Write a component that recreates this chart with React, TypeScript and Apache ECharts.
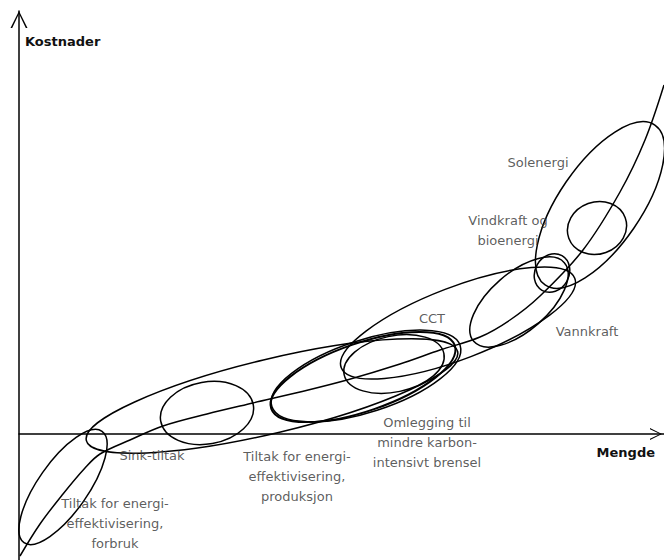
import React, { useEffect, useRef } from "react";
import * as echarts from "echarts";

// Cost curve (Mengde, Kostnader); origin = axes crossing
const curveX = [1, 21, 44, 66, 81, 111, 144, 188, 234, 281, 328, 381, 421, 461, 491, 521, 564, 601, 626, 645];
const curveY = [-122, -90, -60, -34, -20, -6, 8, 20, 31, 42, 54, 70, 84, 97, 114, 138, 184, 242, 294, 349];

// Ellipses: centre, semi-axes and tilt (degrees)
const ellipseNames = ["Forbruk", "Sink", "Produksjon", "Omlegging", "Omlegging2", "CCT liten", "CCT", "Vannkraft", "Bioenergi", "Vindkraft", "Solenergi"];
const ellipseCX = [44, 253, 188, 344, 347, 375, 439, 500, 533, 578, 581];
const ellipseCY = [-53, 38, 21, 57, 58, 70, 111, 132, 161, 206, 229];
const ellipseA = [68, 191, 47, 97, 99, 51, 125, 60, 20, 30, 97];
const ellipseB = [25, 37, 31, 34, 36, 28, 36, 29, 17, 26, 41];
const ellipseAngle = [55, 13.5, 10, 19, 18, 12, 21, 41, 60, 20, 55.5];
const ellipseWidth = [1.5, 1.5, 1.5, 2, 1.5, 1.5, 1.5, 1.5, 1.5, 1.5, 1.5];

// Text labels
const labelTexts = [
  "Sink-tiltak",
  "Tiltak for energi-\neffektivisering,\nforbruk",
  "Tiltak for energi-\neffektivisering,\nproduksjon",
  "Omlegging til\nmindre karbon-\nintensivt brensel",
  "CCT",
  "Vannkraft",
  "Vindkraft og\nbioenergi",
  "Solenergi",
];
const labelX = [133, 96, 278, 408, 413, 568, 489, 519];
const labelY = [-21, -89, -42, -8, 116, 103, 204, 272];

const xAxisName = "Mengde";
const yAxisName = "Kostnader";

const chevron = "path://M0,16 L8,0 L16,16 L14.4,16 L8,2.6 L1.6,16 Z";

export default function App() {
  const ref = useRef<HTMLDivElement>(null);
  useEffect(() => {
    if (!ref.current) return;
    const chart = echarts.init(ref.current, null, { renderer: "svg" });
    const ellipseData = ellipseNames.map((n, i) => ({
      name: n,
      value: [ellipseCX[i], ellipseCY[i], ellipseA[i], ellipseB[i], ellipseAngle[i], ellipseWidth[i]],
    }));
    chart.setOption({
      animation: false,
      backgroundColor: "#ffffff",
      grid: { left: 19, right: 0, top: 11, bottom: 0, containLabel: false },
      xAxis: {
        type: "value",
        min: 0,
        max: 645,
        name: xAxisName,
        nameLocation: "end",
        nameGap: -9,
        nameTextStyle: {
          fontFamily: "DejaVu Sans",
          fontSize: 13,
          fontWeight: "bold",
          color: "#111",
          align: "right",
          verticalAlign: "top",
          padding: [12, 0, 0, 0],
        },
        axisLine: {
          show: true,
          onZero: true,
          symbol: ["none", chevron],
          symbolSize: [12, 16],
          symbolOffset: [0, -8],
          lineStyle: { color: "#000", width: 1.5 },
        },
        axisTick: { show: false },
        axisLabel: { show: false },
        splitLine: { show: false },
      },
      yAxis: {
        type: "value",
        min: -126,
        max: 423,
        name: yAxisName,
        nameLocation: "end",
        nameGap: -30,
        nameTextStyle: {
          fontFamily: "DejaVu Sans",
          fontSize: 13,
          fontWeight: "bold",
          color: "#111",
          align: "left",
          verticalAlign: "middle",
          padding: [0, 0, 0, 6],
        },
        axisLine: {
          show: true,
          onZero: true,
          symbol: ["none", chevron],
          symbolSize: [18, 17],
          symbolOffset: [0, -8.5],
          lineStyle: { color: "#000", width: 1.5 },
        },
        axisTick: { show: false },
        axisLabel: { show: false },
        splitLine: { show: false },
      },
      series: [
        {
          type: "line",
          data: curveX.map((x, i) => [x, curveY[i]]),
          smooth: 0.35,
          showSymbol: false,
          clip: false,
          lineStyle: { color: "#000", width: 1.5 },
          silent: true,
        },
        {
          type: "custom",
          clip: false,
          silent: true,
          data: ellipseData,
          encode: { x: 0, y: 1 },
          renderItem: (params: any, api: any) => {
            const c = api.coord([api.value(0), api.value(1)]);
            const rx = api.size([api.value(2), 0])[0];
            const ry = api.size([0, api.value(3)])[1];
            return {
              type: "ellipse",
              x: c[0],
              y: c[1],
              rotation: (api.value(4) * Math.PI) / 180,
              shape: { cx: 0, cy: 0, rx, ry },
              style: { fill: "none", stroke: "#000", lineWidth: api.value(5) },
            };
          },
        },
        {
          type: "scatter",
          symbolSize: 0,
          silent: true,
          clip: false,
          data: labelTexts.map((t, i) => ({ name: t, value: [labelX[i], labelY[i]] })),
          label: {
            show: true,
            position: "inside",
            formatter: (p: any) => p.name,
            fontFamily: "DejaVu Sans",
            fontSize: 13,
            lineHeight: 20,
            color: "#333",
            align: "center",
            verticalAlign: "middle",
          },
        },
      ],
    });
    return () => chart.dispose();
  }, []);
  return (
    <div
      ref={ref}
      style={{ position: "fixed", left: 0, top: 0, width: 664, height: 560, background: "#fff" }}
    />
  );
}
